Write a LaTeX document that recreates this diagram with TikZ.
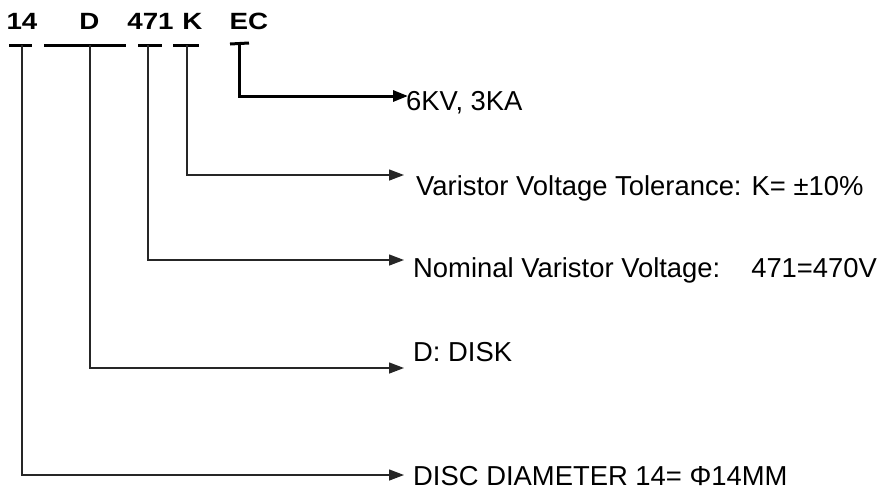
\documentclass[tikz,border=0pt]{standalone}
\usepackage{fontspec}
\setmainfont{Liberation Sans}
\usetikzlibrary{arrows.meta}
\usetikzlibrary{positioning}

\newcommand{\codetext}[1]{\scalebox{1.18}[1]{\fontsize{23.5}{23.5}\selectfont\bfseries #1}}

\begin{document}
\begin{tikzpicture}[x=1pt, y=-1pt,
    code/.style={anchor=base, inner sep=0pt},
    desc/.style={font=\fontsize{27.4}{27.4}\selectfont, anchor=base west, inner sep=0pt},
    bar/.style={line width=3pt},
    link/.style={line width=1.4pt, draw=black!85, -{Triangle[length=15pt,width=11pt]}},
    thicklink/.style={line width=3pt, -{Triangle[length=15pt,width=11pt]}}]
      \useasboundingbox (0,0) rectangle (885,491);
      % Arrow tips end here
      \def\tipx{404}
      % Part number code
      \node[code] (c14) at (22,29) {\codetext{14}};
      \node[code] (cD) at (89.5,29) {\codetext{D}};
      \node[code] (c471) at (150.5,29) {\codetext{471}};
      \node[code] (cK) at (192.5,29) {\codetext{K}};
      \node[code] (cEC) at (249,29) {\codetext{EC}};
      % Bars under each part of the code
      \draw[bar] (9,45) -- (32,45);
      \draw[bar] (44,45) -- (126,45);
      \draw[bar] (138,45) -- (162,45);
      \draw[bar] (173,45) -- (199,45);
      \draw[bar] (230,44) -- (249,43);
      % Stems and arrow ends
      \foreach \name/\sx/\ly in {14/22/475, D/90/368, 471/148/260, K/187/175} {
        \coordinate (s\name) at (\sx,45);
        \coordinate (e\name) at (\tipx,\ly);
        \draw[link] (s\name) |- (e\name);
      }
      \coordinate (sEC) at (239,44);
      \coordinate (eEC) at (408,96);
      \draw[thicklink] (sEC) |- (eEC);
      % Meaning of each part
      \node[desc] (tEC) at (406,110) {6KV, 3KA};
      \node[desc] (tK) at (416,195) {Varistor Voltage Tolerance: K= ±10\%};
      \node[desc] (t471) at (413,277) {Nominal Varistor Voltage:\hspace{31pt}471=470V};
      \node[desc] (tD) at (413,361) {D: DISK};
      \node[desc] (t14) at (413,485) {DISC DIAMETER 14= Φ14MM};
\end{tikzpicture}
\end{document}
